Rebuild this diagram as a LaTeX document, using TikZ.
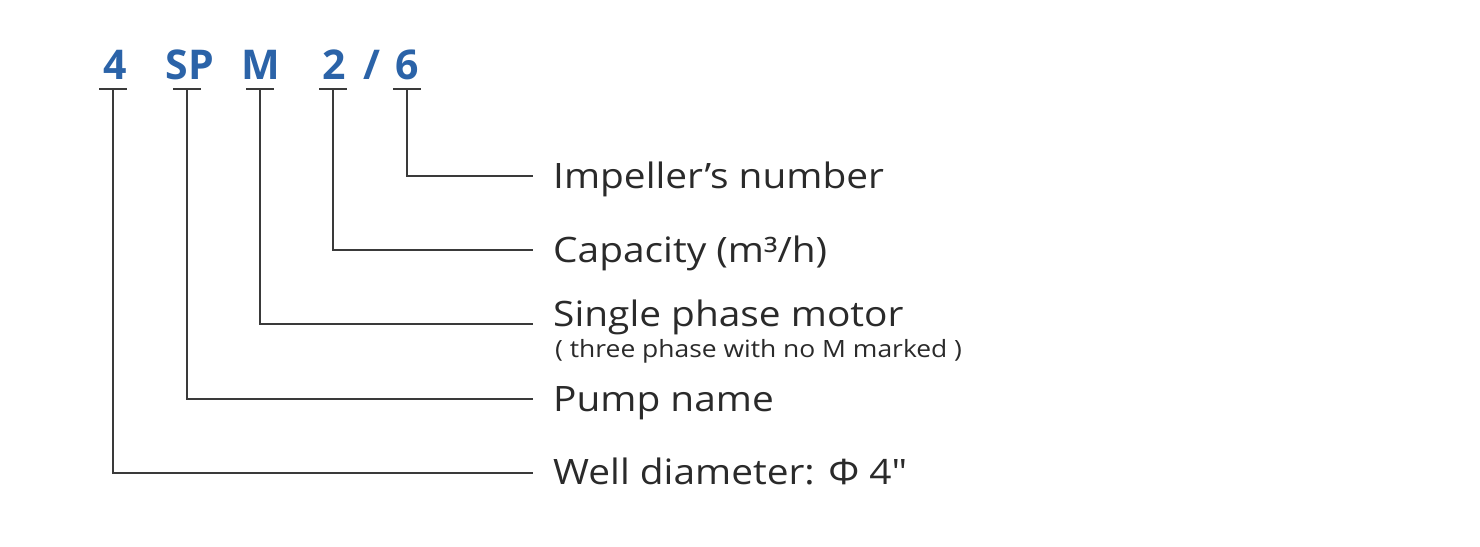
\documentclass[tikz,border=0pt]{standalone}
\usepackage{fontspec}
\setmainfont{Open Sans}
\newfontfamily\lblfont[FakeStretch=1.11]{Open Sans}
\definecolor{codeblue}{HTML}{2B63A8}
\definecolor{linegray}{HTML}{3A3A3A}
\definecolor{textgray}{HTML}{2A2A2A}
\begin{document}
\begin{tikzpicture}[x=1pt,y=-1pt,
  code/.style={anchor=base,inner sep=0pt,text=codeblue,font=\fontsize{41}{41}\selectfont\bfseries},
  lbl/.style={anchor=base west,inner sep=0pt,text=textgray,font=\lblfont\fontsize{35}{35}\selectfont},
  sublbl/.style={anchor=base west,inner sep=0pt,text=textgray,font=\lblfont\fontsize{23.8}{23.8}\selectfont},
  conn/.style={draw=linegray,line width=2pt},
  tbar/.style={draw=linegray,line width=2.2pt}]
\useasboundingbox (0,0) rectangle (1480,546);
% code letters
\node[code] (c4) at (115,79) {4};
\node[code] (cSP) at (190,79) {SP};
\node[code] (cM) at (261,79) {M};
\node[code] (c2) at (334,79) {2};
\node[code] (cslash) at (372,79) {/};
\node[code] (c6) at (407,79) {6};
% T bar tops
\coordinate (t4) at (113,89);
\coordinate (tSP) at (187,89);
\coordinate (tM) at (260,89);
\coordinate (t2) at (333,89);
\coordinate (t6) at (407,89);
\foreach \t in {t4,tSP,tM,t2,t6}{
  \draw[tbar] ([xshift=-14pt]\t) -- ([xshift=14pt]\t);
}
% labels
\node[lbl] (l6) at (553,188) {Impeller’s number};
\node[lbl] (l2) at (553,262) {Capacity (m³/h)};
\node[lbl] (lM) at (553,326) {Single phase motor};
\node[sublbl] (lMs) at (555,357) {( three phase with no M marked )};
\node[lbl] (lSP) at (553,411) {Pump name};
\node[lbl] (l4) at (553,484) {Well diameter: Φ 4"};
% connector ends
\coordinate (e6) at (533,176);
\coordinate (e2) at (533,250);
\coordinate (eM) at (533,324);
\coordinate (eSP) at (533,399);
\coordinate (e4) at (533,473);
\draw[conn] (t6) |- (e6);
\draw[conn] (t2) |- (e2);
\draw[conn] (tM) |- (eM);
\draw[conn] (tSP) |- (eSP);
\draw[conn] (t4) |- (e4);
\end{tikzpicture}
\end{document}
